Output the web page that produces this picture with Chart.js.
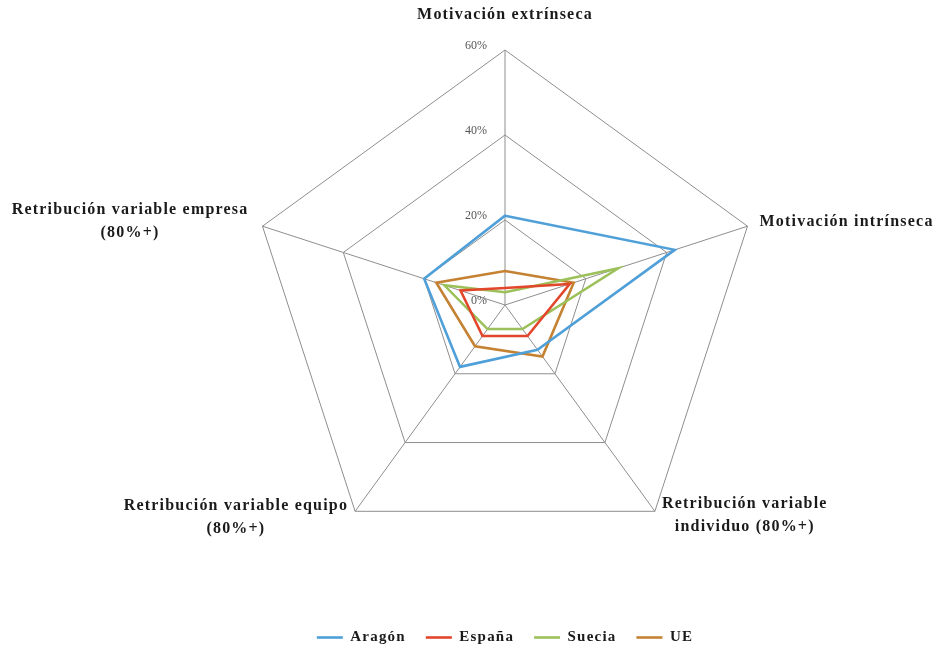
<!DOCTYPE html>
<html>
<head>
<meta charset="utf-8">
<script src="https://cdn.jsdelivr.net/npm/chart.js@4.4.0/dist/chart.umd.min.js"></script>
<style>
  html, body { margin: 0; padding: 0; background: #fff; }
  #wrap { width: 939px; height: 648px; }
</style>
</head>
<body>
<div id="wrap"><canvas id="radar"></canvas></div>
<script>
// axis names, clockwise from the top
const axisLabels = [
  ["Motivación extrínseca"],
  ["Motivación intrínseca"],
  ["Retribución variable", "individuo (80%+)"],
  ["Retribución variable equipo", "(80%+)"],
  ["Retribución variable empresa", "(80%+)"],
];

// % of workers, same order as axisLabels
const aragon = [21, 42, 13, 18, 20];
const espana = [4, 16, 9, 9, 11];
const suecia = [3, 28, 7, 7, 15];
const ue = [8, 17, 15, 12, 17];

const tickValues = [0, 20, 40, 60];
const tickLabels = ["0%", "20%", "40%", "60%"];

const serif = '"Liberation Serif", "Times New Roman", serif';

// where each axis name sits relative to its outer vertex
const labelPlacement = [
  { dx: 0, dy: -35, side: "center" },
  { dx: 12, dy: -4, side: "left" },
  { dx: 7, dy: -7, side: "left" },
  { dx: -7, dy: -5, side: "right" },
  { dx: -14, dy: -16, side: "right" },
];

function line(label, values, color) {
  return {
    label: label,
    data: values,
    borderColor: color,
    backgroundColor: color,
    borderWidth: 2.6,
    fill: false,
    pointRadius: 0,
    pointHoverRadius: 0,
  };
}

// the scanned-looking bold text is set a little loose
const spacing = {
  id: "spacing",
  beforeUpdate(chart) {
    chart.ctx.letterSpacing = "1.2px";
  },
  beforeDraw(chart) {
    chart.ctx.letterSpacing = "1.2px";
  },
};

// axis names and percentage ticks are drawn by hand so they can sit off the spokes
const axisText = {
  id: "axisText",
  afterDraw(chart) {
    const scale = chart.scales.r;
    const ctx = chart.ctx;
    ctx.save();

    ctx.letterSpacing = "0px";
    ctx.font = "12px " + serif;
    ctx.fillStyle = "#555";
    ctx.textAlign = "right";
    ctx.textBaseline = "middle";
    tickValues.forEach((v, i) => {
      const p = scale.getPointPositionForValue(0, v);
      ctx.fillText(tickLabels[i], p.x - 18, p.y - 4);
    });

    ctx.letterSpacing = "1.2px";
    ctx.font = "bold 16px " + serif;
    ctx.fillStyle = "#1a1a1a";
    ctx.textAlign = "center";
    axisLabels.forEach((lines, i) => {
      const p = scale.getPointPosition(i, scale.drawingArea);
      const place = labelPlacement[i];
      const w = Math.max(...lines.map((t) => ctx.measureText(t).width));
      let cx = p.x + place.dx;
      if (place.side === "left") cx += w / 2;
      if (place.side === "right") cx -= w / 2;
      lines.forEach((t, j) => {
        ctx.fillText(t, cx, p.y + place.dy + j * 23);
      });
    });
    ctx.restore();
  },
};

new Chart(document.querySelector("#radar"), {
  type: "radar",
  data: {
    labels: axisLabels,
    datasets: [
      line("Aragón", aragon, "#4f9fd9"),
      line("España", espana, "#e2462b"),
      line("Suecia", suecia, "#9cc15a"),
      line("UE", ue, "#c48232"),
    ],
  },
  options: {
    responsive: true,
    maintainAspectRatio: false,
    animation: false,
    layout: {
      padding: { top: -13, bottom: -7, left: 250, right: 179 },
    },
    elements: {
      line: { tension: 0 },
    },
    scales: {
      r: {
        min: 0,
        max: 60,
        ticks: { stepSize: 20, display: false },
        grid: { color: "#8e8e8e", lineWidth: 1 },
        angleLines: { color: "#8e8e8e", lineWidth: 1 },
        pointLabels: { display: false },
      },
    },
    plugins: {
      tooltip: { enabled: false },
      legend: {
        position: "bottom",
        labels: {
          usePointStyle: true,
          pointStyle: "line",
          pointStyleWidth: 26,
          padding: 20,
          color: "#1a1a1a",
          font: { family: serif, size: 15, weight: "bold" },
        },
      },
    },
  },
  plugins: [spacing, axisText],
});
</script>
</body>
</html>
